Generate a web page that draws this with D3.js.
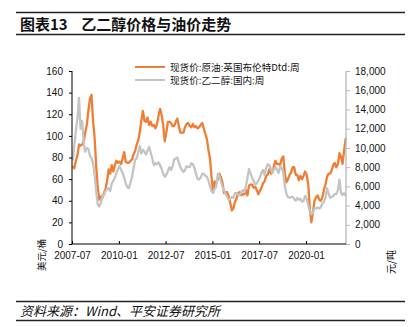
<!DOCTYPE html>
<html><head><meta charset="utf-8">
<script src="https://cdn.jsdelivr.net/npm/d3@7"></script>
<style>
body{margin:0;background:#fff;}
svg{display:block;font-family:"Liberation Sans","Noto Sans CJK SC",Arial,sans-serif;}
</style></head><body>
<svg id="c" width="415" height="327"></svg>
<script>
const startMonth = "2007-07";
const xTickLabels = ["2007-07","2010-01","2012-07","2015-01","2017-07","2020-01"];
const leftTicks = [0,20,40,60,80,100,120,140,160];
const rightTicks = [0,2000,4000,6000,8000,10000,12000,14000,16000,18000];
const seriesNames = ["现货价:原油:英国布伦特Dtd:周","现货价:乙二醇:国内:周"];
// Brent, USD/bbl, monthly from 2007-07
const brent = [
 72,70,77,82,92,91,
 92,95,103,110,123,134,138,114,98,72,52,41,
 44,43,47,51,58,69,65,73,67,73,77,75,
 76,74,79,85,76,75,75,77,78,83,86,92,
 96,104,114,123,114,113,117,110,113,109,110,107,
 111,119,125,119,110,95,103,113,113,112,109,109,
 113,116,109,103,103,103,108,111,112,109,108,111,
 108,109,107,108,110,112,107,102,97,87,79,62,
 48,58,56,60,65,62,57,47,48,48,44,38,
 31,33,39,42,47,48,45,46,46,50,45,54,
 55,55,52,53,50,46,49,52,56,58,63,64,
 69,65,66,72,77,74,74,73,79,81,65,57,
 60,64,66,71,71,64,64,59,63,60,63,67,
 64,55,33,20,29,40,43,45,41,40,43,50,
 55,62,65,65,68,73,75,71,74,84,81,74,
 87,98
];
// MEG China domestic, CNY/t, monthly from 2007-07
const meg = [
 8700,10200,11800,13000,15200,12000,
 12800,10500,9600,10000,9900,9200,8900,8400,7200,5500,4100,3900,
 4300,4900,5100,5500,5700,5800,5500,6300,6600,6900,7400,7800,
 8100,7700,7400,6900,6300,5900,5800,6400,7000,7900,8800,8900,
 9600,10200,9400,9800,9600,9300,9700,10100,9500,8900,8200,8400,
 8300,8500,8200,7800,7300,7000,7200,7600,8000,7700,8100,8800,
 8900,9000,8500,8000,7700,7500,7700,8100,8000,8000,8400,8300,
 7900,7300,6800,6700,6900,7300,7300,7100,7000,6600,6000,5500,
 5300,5800,5900,7300,7100,6500,6000,5600,5200,4900,4600,4700,
 4900,4800,5300,5300,5100,5100,5400,5600,5400,6000,6900,7800,
 7300,6900,6600,6200,6300,6600,6900,7400,7700,7200,7900,8300,
 8200,7800,7400,7800,8000,7700,7400,8100,7900,7400,6000,5200,
 4900,4800,4900,4900,4700,4500,4800,4600,4700,4400,4500,5000,
 4700,4000,3400,3100,3300,3700,3700,3800,3700,3800,4200,4400,
 4800,5800,5300,4800,4900,5000,5200,5200,5600,6700,5300,5100,
 5300,5000
];

const svg = d3.select("#c");
const L = 72, R = 346, T = 71, B = 244;
const parseM = d3.timeParse("%Y-%m");
const t0 = parseM(startMonth);
const dates = brent.map((d,i)=> d3.timeDay.offset(d3.timeMonth.offset(t0,i),14));
const x = d3.scaleTime().domain([t0, new Date(2022,1,20)]).range([L,R]);
const yL = d3.scaleLinear().domain([0,160]).range([B,T]);
const yR = d3.scaleLinear().domain([0,18000]).range([B,T]);

// header / footer rules
const ink = "#222";
svg.append("line").attr("x1",16).attr("x2",405).attr("y1",12.5).attr("y2",12.5).attr("stroke",ink).attr("stroke-width",1.3);
svg.append("line").attr("x1",16).attr("x2",405).attr("y1",34.5).attr("y2",34.5).attr("stroke",ink).attr("stroke-width",1.3);
svg.append("text").attr("x",20).attr("y",30).attr("font-size",15).attr("font-weight","bold").attr("fill","#111")
  .attr("font-family","'Noto Sans CJK SC','Liberation Sans',sans-serif")
  .text("图表13    乙二醇价格与油价走势").attr("xml:space","preserve").style("white-space","pre");
svg.append("line").attr("x1",16).attr("x2",405).attr("y1",301.5).attr("y2",301.5).attr("stroke",ink).attr("stroke-width",1.3);
svg.append("line").attr("x1",16).attr("x2",405).attr("y1",320.5).attr("y2",320.5).attr("stroke",ink).attr("stroke-width",1.3);
svg.append("text").attr("x",20).attr("y",316).attr("font-size",13).attr("font-style","italic").attr("fill","#111")
  .attr("font-family","'Noto Sans CJK SC','Liberation Sans',sans-serif")
  .text("资料来源：Wind、平安证券研究所");

// lines
const lineB = d3.line().x((d,i)=>x(dates[i])).y(d=>yL(d));
const lineM = d3.line().x((d,i)=>x(dates[i])).y(d=>yR(d));
svg.append("path").datum(brent).attr("d",lineB).attr("fill","none").attr("stroke","#F07D33").attr("stroke-width",2.3).attr("stroke-linejoin","round");
svg.append("path").datum(meg).attr("d",lineM).attr("fill","none").attr("stroke","#C4C4C4").attr("stroke-width",2.3).attr("stroke-linejoin","round");

// axes
const fs = 10;
const gL = svg.append("g").attr("transform",`translate(${L},0)`)
  .call(d3.axisLeft(yL).tickValues(leftTicks).tickSize(3).tickPadding(6).tickFormat(d3.format("d")));
gL.select(".domain").attr("stroke","#000").attr("d",`M0,${T}V${B}`);
gL.selectAll(".tick line").attr("stroke","#000");
gL.selectAll("text").attr("font-size",fs).attr("fill","#111").attr("font-family","'Liberation Sans',sans-serif");

const gR = svg.append("g").attr("transform",`translate(${R},0)`)
  .call(d3.axisRight(yR).tickValues(rightTicks).tickSize(4).tickPadding(5).tickFormat(d3.format(",")));
gR.select(".domain").attr("stroke","#b8b8b8").attr("stroke-width",1.3).attr("d",`M0,${T}V${B}`);
gR.selectAll(".tick line").attr("stroke","#b8b8b8");
gR.selectAll("text").attr("font-size",fs).attr("fill","#111").attr("font-family","'Liberation Sans',sans-serif");

const gB = svg.append("g").attr("transform",`translate(0,${B})`)
  .call(d3.axisBottom(x).tickValues(xTickLabels.map(parseM)).tickSize(-3).tickPadding(8).tickFormat(d3.timeFormat("%Y-%m")));
gB.select(".domain").attr("stroke","#000").attr("stroke-width",1.2).attr("d",`M${L},0H${R}`);
gB.selectAll(".tick line").attr("stroke","#000");
gB.selectAll("text").attr("font-size",fs).attr("fill","#111").attr("font-family","'Liberation Sans',sans-serif");

// units
svg.append("text").attr("transform","translate(45,255) rotate(-90)").attr("text-anchor","middle")
  .attr("font-size",9.5).attr("fill","#111").attr("font-family","'Noto Sans CJK SC',sans-serif").text("美元/桶");
svg.append("text").attr("transform","translate(395,262) rotate(-90)").attr("text-anchor","middle")
  .attr("font-size",10).attr("fill","#111").attr("font-family","'Noto Sans CJK SC',sans-serif").text("元/吨");

// legend
const colors = ["#F07D33","#C4C4C4"];
seriesNames.forEach((n,i)=>{
  const yy = 67 + i*13;
  svg.append("line").attr("x1",135).attr("x2",165).attr("y1",yy).attr("y2",yy).attr("stroke",colors[i]).attr("stroke-width",2);
  svg.append("text").attr("x",170).attr("y",yy+3.5).attr("font-size",9.6).attr("fill","#111")
    .attr("font-family","'Noto Sans CJK SC','Liberation Sans',sans-serif").text(n);
});
</script></body></html>
